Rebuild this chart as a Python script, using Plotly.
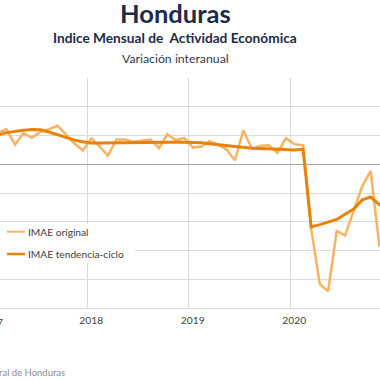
import plotly.graph_objects as go

# Monthly data, Jan 2017 - Dec 2020 (variación interanual, %)
months = [f"{y}-{m:02d}-16" for y in (2017, 2018, 2019, 2020) for m in range(1, 13)]

imae_original = [
    4.9, 5.6, 6.1, 3.4, 5.4, 4.6, 5.6, 6.1, 6.7, 5.2, 3.6, 2.4,
    4.5, 3.0, 1.5, 4.3, 4.3, 3.9, 4.1, 4.3, 2.8, 5.2, 4.2, 4.6,
    2.9, 3.1, 4.0, 3.4, 2.6, 0.7, 5.9, 2.7, 3.2, 3.3, 2.0, 4.5,
    3.5, 3.3, -11.2, -20.8, -22.1, -11.6, -12.4, -8.0, -3.8, -1.2, -14.1, -13.2,
]

imae_tendencia = [
    4.9, 5.1, 5.5, 5.75, 5.9, 6.05, 6.0, 5.6, 5.1, 4.6, 4.2, 3.9,
    3.7, 3.7, 3.73, 3.75, 3.75, 3.76, 3.78, 3.8, 3.82, 3.83, 3.85, 3.85,
    3.83, 3.75, 3.57, 3.4, 3.17, 3.0, 2.87, 2.79, 2.74, 2.68, 2.61, 2.58,
    2.49, 2.61, -10.9, -10.5, -10.1, -9.6, -8.7, -7.8, -6.2, -5.7, -7.0, -7.8,
]

series_names = ["IMAE original", "IMAE tendencia-ciclo"]
series_colors = ["#f9b262", "#e8820c"]

year_ticks = ["2018-01-01", "2019-01-01", "2020-01-01"]
year_labels = ["2018", "2019", "2020"]

FONT = "Lato"
NAVY = "#1c2b48"
W = 380
H_TOP, H_BOT = 78, 308


def py(y):
    return (H_BOT - y) / (H_BOT - H_TOP)


def px(x):
    return x / W


fig = go.Figure()
fig.add_trace(go.Scatter(
    x=months, y=imae_original, mode="lines", name=series_names[0],
    line=dict(color=series_colors[0], width=2.5), showlegend=False,
))
fig.add_trace(go.Scatter(
    x=months, y=imae_tendencia, mode="lines", name=series_names[1],
    line=dict(color=series_colors[1], width=3), showlegend=False,
))

# legend box (drawn manually so that it can sit at the cropped left edge)
shapes = [
    dict(type="rect", xref="paper", yref="paper", x0=px(-2), x1=px(135),
         y0=py(263), y1=py(224), fillcolor="white", line=dict(width=0), layer="above"),
]
annotations = []
for i, (nm, col) in enumerate(zip(series_names, series_colors)):
    yy = 231.7 + i * 22.3
    shapes.append(dict(type="line", xref="paper", yref="paper", x0=px(7), x1=px(25),
                       y0=py(yy), y1=py(yy), line=dict(color=col, width=2 + 0.5 * i),
                       layer="above"))
    annotations.append(dict(text=nm, x=px(26), y=py(yy), xref="paper", yref="paper",
                            xanchor="left", yanchor="middle", showarrow=False,
                            font=dict(family=FONT, size=10.2, color="#404040")))

annotations += [
    dict(text="<b>Honduras</b>", x=px(175), y=py(13), xref="paper", yref="paper",
         xanchor="center", yanchor="middle", showarrow=False,
         font=dict(family=FONT, size=25.5, color=NAVY)),
    dict(text="<b>Indice Mensual de  Actividad Económica</b>", x=px(175), y=py(37.5),
         xref="paper", yref="paper", xanchor="center", yanchor="middle",
         showarrow=False, font=dict(family=FONT, size=13.7, color=NAVY)),
    dict(text="Variación interanual", x=px(175), y=py(58.5), xref="paper", yref="paper",
         xanchor="center", yanchor="middle", showarrow=False,
         font=dict(family=FONT, size=12.3, color="#333a4a")),
    dict(text="2017", x=px(4.5), y=py(322), xref="paper", yref="paper",
         xanchor="right", yanchor="middle", showarrow=False,
         font=dict(family=FONT, size=10.3, color="#404040")),
    dict(text="Fuente: Banco Central de Honduras", x=px(67), y=py(372),
         xref="paper", yref="paper", xanchor="right", yanchor="middle",
         showarrow=False, font=dict(family=FONT, size=9.5, color="#8a8a8a")),
]

fig.update_layout(
    width=W, height=380,
    margin=dict(l=0, r=0, t=H_TOP, b=380 - H_BOT, pad=0),
    paper_bgcolor="white", plot_bgcolor="white",
    font=dict(family=FONT, color="#404040", size=11),
    showlegend=False,
    xaxis=dict(
        type="date", range=["2017-02-21", "2020-11-18 14:00"],
        tickvals=year_ticks, ticktext=year_labels,
        showgrid=True, gridcolor="#d9d9d9", gridwidth=1,
        showline=True, linecolor="#d9d9d9", linewidth=1, mirror=False,
        ticks="", tickfont=dict(size=10.3, color="#404040"),
        ticklabelshift=4, ticklabelstandoff=3, zeroline=False,
    ),
    yaxis=dict(
        range=[-25, 15], dtick=5, showticklabels=False,
        showgrid=True, gridcolor="#d9d9d9", gridwidth=1,
        zeroline=True, zerolinecolor="#a6a6a6", zerolinewidth=1,
        showline=False, ticks="",
    ),
    shapes=shapes,
    annotations=annotations,
)

fig.write_html("out.html", config={"displayModeBar": False},
               post_script="document.body.style.margin='0px';")
